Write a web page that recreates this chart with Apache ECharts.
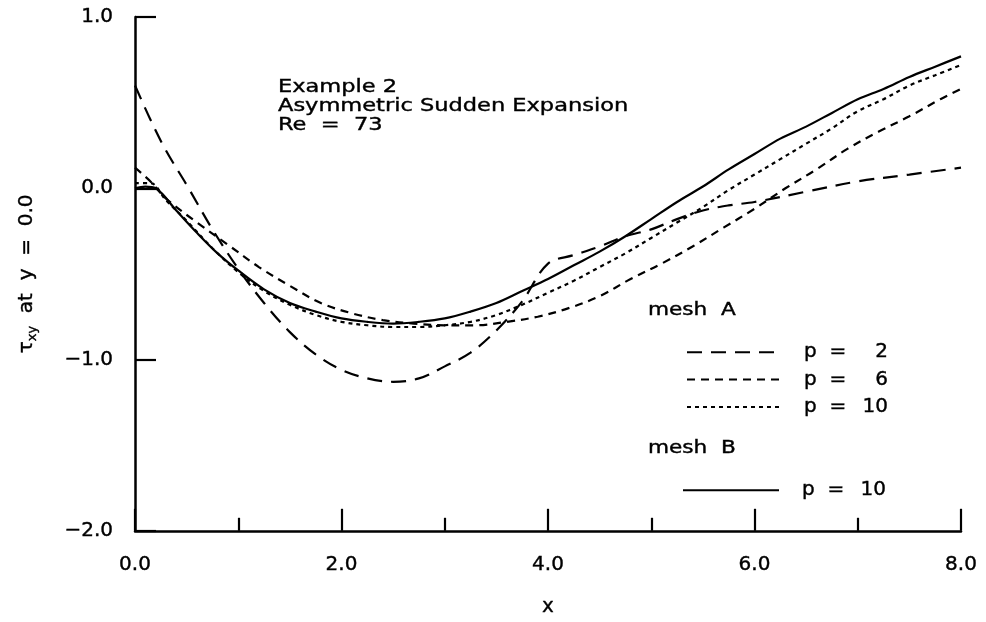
<!DOCTYPE html>
<html><head><meta charset="utf-8">
<script src="https://cdn.jsdelivr.net/npm/echarts@6/dist/echarts.min.js"></script>
<style>html,body{margin:0;padding:0;background:#fff}#c{width:986px;height:622px}</style>
</head><body><div id="c"></div>
<script>
// ---- data ----
const meshB_p10_x = [0, 0.1, 0.2, 0.4, 0.6, 0.8, 1.0, 1.25, 1.5, 1.75, 2.0, 2.25, 2.5, 2.75, 3.0, 3.25, 3.5, 3.75, 4.0, 4.25, 4.5, 4.75, 5.0, 5.25, 5.5, 5.75, 6.0, 6.25, 6.5, 6.75, 7.0, 7.25, 7.5, 7.75, 8.0];
const meshB_p10_y = [0, 0.01, 0, -0.13, -0.26, -0.38, -0.48, -0.59, -0.67, -0.72, -0.76, -0.78, -0.79, -0.78, -0.76, -0.72, -0.67, -0.6, -0.53, -0.45, -0.37, -0.28, -0.18, -0.08, 0.01, 0.11, 0.2, 0.29, 0.36, 0.44, 0.52, 0.58, 0.65, 0.71, 0.77];

const meshA_p10_x = [0, 0.15, 0.3, 0.5, 0.75, 1.0, 1.25, 1.5, 1.75, 2.0, 2.25, 2.5, 2.75, 3.0, 3.25, 3.5, 3.75, 4.0, 4.25, 4.5, 4.75, 5.0, 5.25, 5.5, 5.75, 6.0, 6.25, 6.5, 6.75, 7.0, 7.25, 7.5, 7.75, 8.0];
const meshA_p10_y = [0.03, 0.03, -0.07, -0.19, -0.35, -0.49, -0.6, -0.68, -0.74, -0.78, -0.8, -0.81, -0.81, -0.8, -0.78, -0.74, -0.68, -0.61, -0.54, -0.46, -0.38, -0.29, -0.2, -0.11, -0.01, 0.08, 0.17, 0.26, 0.35, 0.45, 0.52, 0.6, 0.66, 0.72];

const meshA_p6_x = [0, 0.15, 0.3, 0.6, 0.9, 1.2, 1.5, 1.8, 2.1, 2.4, 2.7, 3.0, 3.3, 3.6, 3.9, 4.2, 4.5, 4.8, 5.1, 5.4, 5.7, 6.0, 6.3, 6.6, 6.9, 7.2, 7.5, 7.8, 8.0];
const meshA_p6_y = [0.12, 0.04, -0.06, -0.2, -0.33, -0.46, -0.57, -0.67, -0.73, -0.77, -0.79, -0.8, -0.8, -0.78, -0.75, -0.7, -0.63, -0.53, -0.44, -0.34, -0.23, -0.12, 0.0, 0.11, 0.23, 0.33, 0.42, 0.52, 0.58];

const meshA_p2_x = [0, 0.15, 0.3, 0.5, 0.75, 1.0, 1.25, 1.5, 1.75, 2.0, 2.25, 2.5, 2.75, 3.0, 3.25, 3.5, 3.75, 4.0, 4.25, 4.5, 4.75, 5.0, 5.25, 5.5, 5.75, 6.0, 6.5, 7.0, 7.5, 8.0];
const meshA_p2_y = [0.6, 0.4, 0.22, 0.02, -0.24, -0.47, -0.67, -0.84, -0.97, -1.06, -1.11, -1.13, -1.11, -1.04, -0.96, -0.83, -0.66, -0.44, -0.39, -0.34, -0.28, -0.24, -0.18, -0.13, -0.1, -0.08, -0.02, 0.04, 0.08, 0.12];

const legendA_labels = ['2', '6', '10'];
const legendB_labels = ['10'];
const annotation = ['Example 2', 'Asymmetric Sudden Expansion', 'Re  =  73'];

// ---- chart ----
const FONT = 'DejaVu Sans';
const pairs = (xs, ys) => xs.map((x, i) => [x, ys[i]]);
const minus = v => (v < 0 ? '\u2212' : '') + Math.abs(v).toFixed(1);

const chart = echarts.init(document.getElementById('c'), null, {renderer: 'canvas'});

function lineSeries(name, xs, ys, dash) {
  return {
    name, type: 'line', data: pairs(xs, ys), symbol: 'none', smooth: 0.35,
    lineStyle: {color: '#000', width: 2.2, type: dash},
    itemStyle: {color: '#000'}, animation: false, silent: true
  };
}

const txt = {color: '#000', fontFamily: FONT, fontSize: 20, textBorderColor: '#000', textBorderWidth: 0.4};
const legendRich = {
  p: Object.assign({}, txt, {width: 52}),
  n: Object.assign({}, txt, {width: 32, align: 'right'})
};
function note(text, x, y, sx) {
  return {type: 'text', x, y, scaleX: sx, silent: true,
    style: {text, fontFamily: FONT, fontSize: 18, fill: '#000', stroke: '#000', lineWidth: 0.4, verticalAlign: 'middle'}};
}

chart.setOption({
  animation: false,
  backgroundColor: '#fff',
  grid: {left: 135, right: 25, top: 17, bottom: 81, containLabel: false},
  xAxis: {
    type: 'value', min: 0, max: 8, interval: 2,
    name: 'x', nameLocation: 'middle', nameGap: 66,
    nameTextStyle: txt,
    axisLine: {show: true, onZero: false, lineStyle: {color: '#000', width: 2.5}},
    axisTick: {show: true, inside: true, length: 22, lineStyle: {color: '#000', width: 2.2}},
    minorTick: {show: true, splitNumber: 2, length: 13, lineStyle: {color: '#000', width: 2.2}},
    splitLine: {show: false},
    axisLabel: Object.assign({}, txt, {margin: 24, formatter: v => minus(v)})
  },
  yAxis: {
    type: 'value', min: -2, max: 1, interval: 1,
    name: '{t|\u03c4}{s|xy}{t|  at  y  =  0.0}', nameLocation: 'middle', nameGap: 96, nameRotate: 90,
    nameTextStyle: {
      color: '#000',
      rich: {
        t: Object.assign({}, txt, {fontSize: 20}),
        s: Object.assign({}, txt, {fontSize: 13, verticalAlign: 'bottom', padding: [12, 0, 0, 0]})
      }
    },
    axisLine: {show: true, onZero: false, lineStyle: {color: '#000', width: 2.5}},
    axisTick: {show: true, inside: true, length: 21, lineStyle: {color: '#000', width: 2.2}},
    splitLine: {show: false},
    axisLabel: Object.assign({}, txt, {margin: 22, formatter: v => minus(v)})
  },
  legend: [
    {
      data: ['A2', 'A6', 'A10'], orient: 'vertical', left: 681, top: 337,
      itemWidth: 93, itemHeight: 20, itemGap: 7, selectedMode: false,
      itemStyle: {opacity: 0},
      formatter: n => '{p|p  =}{n|' + legendA_labels[['A2', 'A6', 'A10'].indexOf(n)] + '}',
      textStyle: {rich: legendRich, padding: [0, 0, 0, 19]}
    },
    {
      data: ['B10'], orient: 'vertical', left: 677, top: 475,
      itemWidth: 96, itemHeight: 20, selectedMode: false,
      itemStyle: {opacity: 0},
      formatter: n => '{p|p  =}{n|' + legendB_labels[0] + '}',
      textStyle: {rich: legendRich, padding: [0, 0, 0, 18]}
    }
  ],
  graphic: [
    note(annotation[0], 278, 87, 1.25),
    note(annotation[1], 278, 106, 1.25),
    note(annotation[2], 278, 125, 1.25),
    note('mesh  A', 648, 310, 1.2),
    note('mesh  B', 648, 448, 1.2)
  ],
  series: [
    lineSeries('A2', meshA_p2_x, meshA_p2_y, [15, 9]),
    lineSeries('A6', meshA_p6_x, meshA_p6_y, [8, 6]),
    lineSeries('A10', meshA_p10_x, meshA_p10_y, [4, 4]),
    lineSeries('B10', meshB_p10_x, meshB_p10_y, 'solid')
  ]
});
</script></body></html>
